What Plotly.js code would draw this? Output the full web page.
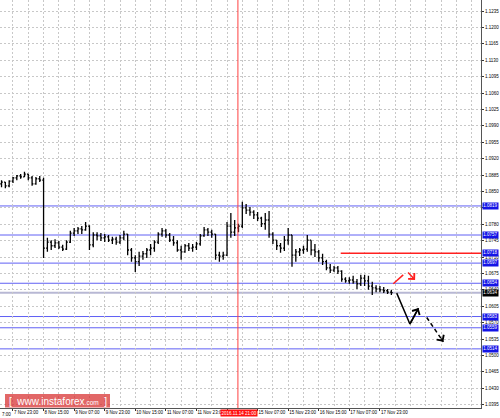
<!DOCTYPE html>
<html><head><meta charset="utf-8">
<script src="https://cdn.plot.ly/plotly-3.0.1.min.js"></script>
<style>html,body{margin:0;padding:0;background:#fff;}#chart{width:500px;height:418px;}</style>
</head><body><div id="chart"></div>
<script>
// H1 bars (every 2nd hour sampled), bar index counted in hours from 7 Nov 07:00
const firstBar = 10;
const barStep = 2;
const opens = [1.0866,1.0870,1.0862,1.0872,1.0879,1.0883,1.0881,1.0887,1.0879,1.0866,1.0877,1.0874,
1.0729,1.0742,1.0734,1.0740,1.0731,1.0727,1.0742,1.0761,1.0766,1.0770,1.0768,1.0776,1.0736,1.0757,1.0755,1.0751,1.0753,1.0746,1.0748,1.0742,1.0751,1.0759,
1.0725,1.0708,1.0700,1.0712,1.0717,1.0725,1.0729,1.0742,1.0759,1.0766,1.0757,1.0746,1.0740,1.0725,1.0721,1.0734,1.0729,1.0731,1.0738,1.0755,1.0768,1.0763,1.0759,
1.0714,1.0712,1.0714,1.0776,1.0763,1.0772,1.0776,1.0815,1.0810,1.0806,1.0800,1.0793,1.0781,1.0789,1.0759,1.0746,1.0734,1.0729,1.0746,1.0757,
1.0714,1.0721,1.0725,1.0727,1.0746,1.0725,1.0721,1.0708,1.0700,1.0687,1.0682,1.0687,1.0680,1.0663,1.0659,1.0661,1.0657,1.0653,1.0665,1.0659,1.0648,1.0644,1.0642,1.0640,1.0638,1.0635];
const highs = [1.0874,1.0870,1.0874,1.0881,1.0885,1.0887,1.0892,1.0887,1.0883,1.0881,1.0883,1.0879,
1.0751,1.0746,1.0748,1.0744,1.0736,1.0746,1.0766,1.0772,1.0774,1.0776,1.0785,1.0778,1.0763,1.0763,1.0761,1.0759,1.0757,1.0753,1.0753,1.0757,1.0766,1.0759,
1.0729,1.0714,1.0721,1.0723,1.0729,1.0738,1.0746,1.0763,1.0772,1.0770,1.0761,1.0755,1.0746,1.0734,1.0738,1.0740,1.0738,1.0742,1.0759,1.0774,1.0772,1.0768,1.0759,
1.0721,1.0721,1.0785,1.0804,1.0789,1.0781,1.0828,1.0823,1.0817,1.0810,1.0806,1.0796,1.0804,1.0808,1.0763,1.0746,1.0740,1.0755,1.0772,1.0757,
1.0727,1.0729,1.0734,1.0757,1.0746,1.0738,1.0725,1.0717,1.0704,1.0695,1.0691,1.0691,1.0682,1.0667,1.0667,1.0670,1.0663,1.0672,1.0672,1.0670,1.0657,1.0650,1.0648,1.0646,1.0642,1.0640];
const lows = [1.0859,1.0857,1.0859,1.0868,1.0874,1.0877,1.0881,1.0874,1.0862,1.0864,1.0870,1.0708,
1.0721,1.0725,1.0729,1.0727,1.0723,1.0725,1.0740,1.0755,1.0759,1.0759,1.0766,1.0725,1.0731,1.0746,1.0744,1.0742,1.0742,1.0738,1.0736,1.0738,1.0746,1.0714,
1.0700,1.0678,1.0691,1.0704,1.0708,1.0714,1.0721,1.0738,1.0753,1.0751,1.0742,1.0734,1.0721,1.0704,1.0719,1.0723,1.0721,1.0725,1.0734,1.0753,1.0755,1.0751,1.0704,
1.0700,1.0704,1.0712,1.0751,1.0755,1.0763,1.0772,1.0802,1.0798,1.0791,1.0787,1.0774,1.0768,1.0751,1.0738,1.0725,1.0719,1.0723,1.0736,1.0689,
1.0700,1.0712,1.0717,1.0721,1.0714,1.0710,1.0700,1.0693,1.0682,1.0676,1.0678,1.0674,1.0657,1.0655,1.0653,1.0653,1.0642,1.0648,1.0648,1.0640,1.0629,1.0635,1.0635,1.0633,1.0631,1.0629];
const closes = [1.0870,1.0862,1.0872,1.0879,1.0883,1.0881,1.0887,1.0879,1.0866,1.0877,1.0874,1.0729,
1.0742,1.0734,1.0740,1.0731,1.0727,1.0742,1.0761,1.0766,1.0770,1.0768,1.0776,1.0736,1.0757,1.0755,1.0751,1.0753,1.0746,1.0748,1.0742,1.0751,1.0759,1.0725,
1.0708,1.0700,1.0712,1.0717,1.0725,1.0729,1.0742,1.0759,1.0766,1.0757,1.0746,1.0740,1.0725,1.0721,1.0734,1.0729,1.0731,1.0738,1.0755,1.0768,1.0763,1.0759,1.0714,
1.0712,1.0714,1.0776,1.0763,1.0772,1.0776,1.0815,1.0810,1.0806,1.0800,1.0793,1.0781,1.0789,1.0759,1.0746,1.0734,1.0729,1.0746,1.0757,1.0714,
1.0721,1.0725,1.0727,1.0746,1.0725,1.0721,1.0708,1.0700,1.0687,1.0682,1.0687,1.0680,1.0663,1.0659,1.0661,1.0657,1.0653,1.0665,1.0659,1.0648,1.0644,1.0642,1.0640,1.0638,1.0635,1.0634];

// time axis labels (every 16 bars starting at bar 16; the one under the cursor label is hidden)
const timeLabelBars = [16,32,48,64,80,96,112,128,144,160,176,192,208];
const timeLabels = ["7 Nov 23:00","8 Nov 15:00","9 Nov 07:00","9 Nov 23:00","10 Nov 15:00","11 Nov 07:00","11 Nov 23:00","","15 Nov 07:00","15 Nov 23:00","16 Nov 15:00","17 Nov 07:00","17 Nov 23:00"];
const priceTicks = ["1.0395","1.0430","1.0465","1.0500","1.0535","1.0570","1.0605","1.0640","1.0675","1.0710","1.0745","1.0780","1.0815","1.0850","1.0885","1.0920","1.0955","1.0990","1.1025","1.1060","1.1095","1.1130","1.1165","1.1200","1.1235"];
const hiddenPriceTicks = ["1.0815"];

// levels
const blueLevels = [1.0819, 1.0757, 1.0697, 1.0654, 1.0583, 1.0559, 1.0514];
const redLevel = 1.0718;
const redLevelStartBar = 187.5;
const bidPrice = 1.0634;
const cursorBar = 133.7;
const cursorLabel = "2016.11.14 21:00";

// forecast drawing
const redPathX = [215.0, 220.2], redPathY = [1.0653, 1.0672];
const redArrowX = [222.0, 226.4], redArrowY = [1.0680, 1.0661];
const solidPathX = [216.8, 223.7, 228.2], solidPathY = [1.0633, 1.0567, 1.0601];
const dashPathX = [232.5, 241.2], dashPathY = [1.0581, 1.0529];

const barX = opens.map((_, i) => firstBar + barStep * i);
const FONT = "Liberation Sans, Arial, sans-serif";

const traces = [
  {type:'ohlc', x:barX, open:opens, high:highs, low:lows, close:closes,
   increasing:{line:{color:'#000', width:1.3}}, decreasing:{line:{color:'#000', width:1.3}},
   tickwidth:0.35, hoverinfo:'skip'},
  {type:'scatter', mode:'lines', x:redPathX, y:redPathY, line:{color:'#ff2020', width:1.5}, hoverinfo:'skip'},
  {type:'scatter', mode:'lines', x:solidPathX, y:solidPathY, line:{color:'#000', width:1.5}, hoverinfo:'skip'},
  {type:'scatter', mode:'lines', x:dashPathX, y:dashPathY, line:{color:'#000', width:1.5, dash:'4px,3px'}, hoverinfo:'skip'}
];

const shapes = [];
blueLevels.forEach(p => shapes.push({type:'line', xref:'paper', x0:0, x1:1, yref:'y', y0:p, y1:p, line:{color:'#6060f4', width:1}, layer:'between'}));
shapes.push({type:'line', xref:'paper', x0:0, x1:1, yref:'y', y0:bidPrice, y1:bidPrice, line:{color:'#b8b8d4', width:2}, layer:'between'});
shapes.push({type:'line', xref:'x', x0:redLevelStartBar, x1:262, yref:'y', y0:redLevel, y1:redLevel, line:{color:'#ff2020', width:1.6}, layer:'between'});
shapes.push({type:'line', xref:'x', x0:cursorBar, x1:cursorBar, yref:'paper', y0:0, y1:1, line:{color:'#ff4040', width:1}, layer:'above'});
shapes.push({type:'rect', xref:'paper', yref:'paper', x0:5/481, x1:110/481, y0:0.001, y1:14/408, fillcolor:'rgba(215,45,45,0.72)', line:{width:0}, layer:'above'});

const annotations = [];
const lvl = (p, bg) => annotations.push({xref:'paper', x:1, xanchor:'left', xshift:0.5, yref:'y', y:p, yanchor:'middle',
  text:p.toFixed(4), showarrow:false, bgcolor:bg, borderpad:0.3, font:{family:FONT, size:4.5, color:'#fff'}});
blueLevels.forEach(p => lvl(p, '#1414e6'));
lvl(redLevel, '#1414e6');
lvl(bidPrice, '#000');
annotations.push({xref:'x', x:cursorBar, xanchor:'center', xshift:1, yref:'paper', y:0, yanchor:'top', yshift:-0.5, text:cursorLabel, showarrow:false,
  bgcolor:'#ff1010', borderpad:0.5, font:{family:FONT, size:4.5, color:'#fff'}});
annotations.push({xref:'paper', x:0, xanchor:'left', yref:'paper', y:0, yanchor:'top', yshift:-1.5, text:'7:00', showarrow:false,
  font:{family:FONT, size:4.5, color:'#000'}});
annotations.push({xref:'paper', x:57.5/481, xanchor:'center', yref:'paper', y:7/408, yanchor:'middle', showarrow:false,
  text:'[  www.instaforex<span style="font-size:6.5px">.com</span>  ]', font:{family:FONT, size:10, color:'#fff'}});
const arrowCommon = {axref:'x', ayref:'y', xref:'x', yref:'y', text:'', showarrow:true, arrowhead:4, arrowsize:1.1, arrowwidth:1.5};
annotations.push(Object.assign({}, arrowCommon, {x:redArrowX[1], y:redArrowY[1], ax:redArrowX[0], ay:redArrowY[0], arrowcolor:'#ff2020'}));
annotations.push(Object.assign({}, arrowCommon, {x:solidPathX[2], y:solidPathY[2], ax:solidPathX[1], ay:solidPathY[1], arrowcolor:'#000'}));
const dn = dashPathX.length - 1;
annotations.push(Object.assign({}, arrowCommon, {x:dashPathX[dn], y:dashPathY[dn],
  ax:dashPathX[dn] - 0.2*(dashPathX[dn]-dashPathX[0]), ay:dashPathY[dn] - 0.2*(dashPathY[dn]-dashPathY[0]), arrowcolor:'#000'}));

const minorBars = [];
for (let b = 16; b <= 264; b += 8) minorBars.push(b);
const gridStyle = {gridcolor:'#c8c8c8', griddash:'2px,2px', gridwidth:1};

const layout = {
  width:500, height:418, margin:{l:0, r:19, t:0, b:10, pad:0},
  paper_bgcolor:'#fff', plot_bgcolor:'#fff', showlegend:false,
  font:{family:FONT, size:4.5, color:'#000'},
  xaxis:Object.assign({range:[9.2, 260.9], tickmode:'array', tickvals:timeLabelBars, ticktext:timeLabels, tickangle:0,
    ticks:'outside', ticklen:2, tickcolor:'#333', tickfont:{family:FONT, size:4.5, color:'#000'},
    ticklabelposition:'outside right', showline:true, linecolor:'#555', linewidth:1, zeroline:false,
    showgrid:true, automargin:false, fixedrange:true, rangeslider:{visible:false},
    minor:Object.assign({tickvals:minorBars, showgrid:true, ticks:''}, gridStyle)}, gridStyle),
  yaxis:Object.assign({range:[1.03878, 1.12585], side:'right', tickmode:'array', tickvals:priceTicks.map(parseFloat),
    ticktext:priceTicks.map(t => hiddenPriceTicks.includes(t) ? '' : t),
    ticks:'outside', ticklen:2, tickcolor:'#333', tickfont:{family:FONT, size:4.5, color:'#000'},
    showline:true, linecolor:'#555', linewidth:1, zeroline:false, showgrid:true, automargin:false, fixedrange:true}, gridStyle),
  shapes:shapes, annotations:annotations
};
Plotly.newPlot('chart', traces, layout, {staticPlot:true, displayModeBar:false});
</script></body></html>
